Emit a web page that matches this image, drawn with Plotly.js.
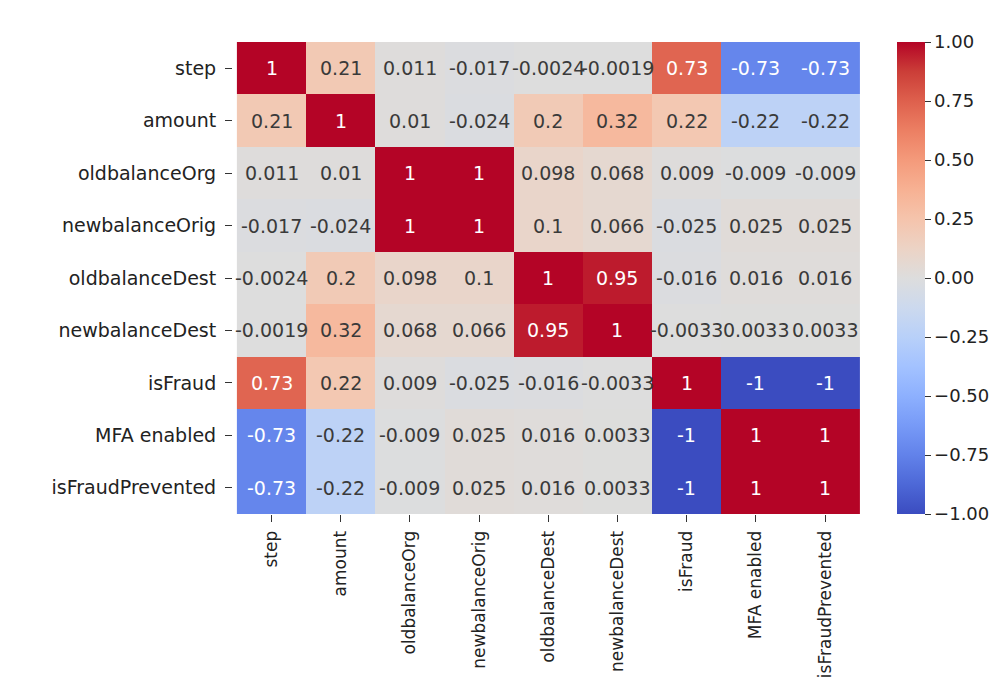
<!DOCTYPE html>
<html>
<head>
<meta charset="utf-8">
<script src="https://cdn.plot.ly/plotly-3.0.1.min.js"></script>
<style>html,body{margin:0;padding:0;background:#fff;}#chart{width:1007px;height:682px;}</style>
</head>
<body>
<div id="chart"></div>
<script>
var labels = ["step","amount","oldbalanceOrg","newbalanceOrig","oldbalanceDest","newbalanceDest","isFraud","MFA enabled","isFraudPrevented"];

var rowStep            = [1, 0.21, 0.011, -0.017, -0.0024, -0.0019, 0.73, -0.73, -0.73];
var rowAmount          = [0.21, 1, 0.01, -0.024, 0.2, 0.32, 0.22, -0.22, -0.22];
var rowOldbalanceOrg   = [0.011, 0.01, 1, 1, 0.098, 0.068, 0.009, -0.009, -0.009];
var rowNewbalanceOrig  = [-0.017, -0.024, 1, 1, 0.1, 0.066, -0.025, 0.025, 0.025];
var rowOldbalanceDest  = [-0.0024, 0.2, 0.098, 0.1, 1, 0.95, -0.016, 0.016, 0.016];
var rowNewbalanceDest  = [-0.0019, 0.32, 0.068, 0.066, 0.95, 1, -0.0033, 0.0033, 0.0033];
var rowIsFraud         = [0.73, 0.22, 0.009, -0.025, -0.016, -0.0033, 1, -1, -1];
var rowMFA             = [-0.73, -0.22, -0.009, 0.025, 0.016, 0.0033, -1, 1, 1];
var rowIsFraudPrevented= [-0.73, -0.22, -0.009, 0.025, 0.016, 0.0033, -1, 1, 1];

var z = [rowStep,rowAmount,rowOldbalanceOrg,rowNewbalanceOrig,rowOldbalanceDest,rowNewbalanceDest,rowIsFraud,rowMFA,rowIsFraudPrevented];

var cbTicks = [-1, -0.75, -0.5, -0.25, 0, 0.25, 0.5, 0.75, 1];

var coolwarm = [
[0.0,'rgb(59,76,192)'],[0.0625,'rgb(77,104,215)'],[0.125,'rgb(98,130,234)'],[0.1875,'rgb(119,154,247)'],
[0.25,'rgb(141,176,254)'],[0.3125,'rgb(163,194,255)'],[0.375,'rgb(184,208,249)'],[0.4375,'rgb(204,217,238)'],
[0.5,'rgb(221,221,221)'],[0.5625,'rgb(236,211,197)'],[0.625,'rgb(245,196,172)'],[0.6875,'rgb(247,177,147)'],
[0.75,'rgb(244,154,123)'],[0.8125,'rgb(236,127,99)'],[0.875,'rgb(222,96,77)'],[0.9375,'rgb(203,62,56)'],
[1.0,'rgb(180,4,38)']];

var annotations = [];
for (var i = 0; i < labels.length; i++) {
  for (var j = 0; j < labels.length; j++) {
    var v = z[i][j];
    var txt = String(parseFloat(v.toPrecision(2)));
    annotations.push({
      x: labels[j], y: labels[i], xref: 'x', yref: 'y',
      text: txt, showarrow: false,
      font: {family: 'DejaVu Sans', size: 19, color: Math.abs(v) > 0.6 ? '#ffffff' : '#3a3a3a'}
    });
  }
}

var trace = {
  type: 'heatmap',
  x: labels, y: labels, z: z,
  zmin: -1, zmax: 1,
  colorscale: coolwarm,
  xgap: 0, ygap: 0,
  colorbar: {
    x: 1.059, xanchor: 'left', xref: 'paper', xpad: 0,
    y: 0.5, yanchor: 'middle', len: 1, lenmode: 'fraction', ypad: 0,
    thickness: 28, outlinewidth: 0,
    tickvals: cbTicks, tickformat: '.2f',
    ticks: 'outside', ticklen: 6, tickcolor: '#333',
    tickfont: {family: 'DejaVu Sans', size: 18, color: '#222'}
  }
};

var layout = {
  width: 1007, height: 682,
  margin: {l: 233, r: 147, t: 42, b: 168, pad: 0},
  paper_bgcolor: '#fff', plot_bgcolor: '#fff',
  font: {family: 'DejaVu Sans', color: '#222'},
  xaxis: {
    type: 'category', tickangle: -90, ticks: 'outside', ticklen: 7, tickcolor: '#333',
    showgrid: false, zeroline: false, showline: false, ticklabelstandoff: 2,
    tickfont: {family: 'DejaVu Sans', size: 17, color: '#222'}
  },
  yaxis: {
    type: 'category', autorange: 'reversed', ticks: 'outside', ticklen: 7, tickcolor: '#333',
    showgrid: false, zeroline: false, showline: false, ticklabelstandoff: 5,
    tickfont: {family: 'DejaVu Sans', size: 19, color: '#222'}
  },
  annotations: annotations
};

Plotly.newPlot('chart', [trace], layout, {displayModeBar: false, staticPlot: true});
</script>
</body>
</html>
